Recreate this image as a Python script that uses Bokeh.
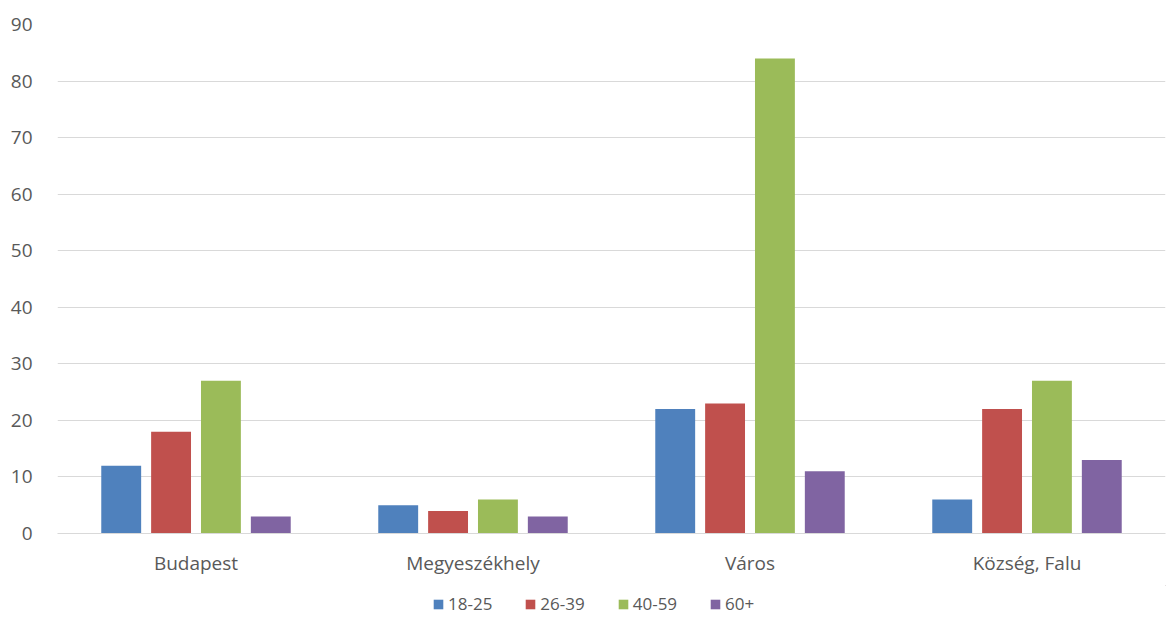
from bokeh.plotting import figure
from bokeh.layouts import column
from bokeh.models import (ColumnDataSource, FactorRange, Range1d, FixedTicker,
                          Legend, LegendItem)
from bokeh.transform import dodge
from bokeh.embed import file_html
from bokeh.resources import INLINE

# Respondents by settlement type and age group
categories = ["Budapest", "Megyeszékhely", "Város", "Község, Falu"]
age_groups = ["18-25", "26-39", "40-59", "60+"]
v_18_25 = [12, 5, 22, 6]
v_26_39 = [18, 4, 23, 22]
v_40_59 = [27, 6, 84, 27]
v_60_plus = [3, 3, 11, 13]
y_ticks = [0, 10, 20, 30, 40, 50, 60, 70, 80, 90]

colors = ["#4F81BD", "#C0504D", "#9BBB59", "#8064A2"]
series = [v_18_25, v_26_39, v_40_59, v_60_plus]
offsets = [-0.27, -0.09, 0.09, 0.27]

source = ColumnDataSource(data=dict(
    cat=categories, s0=v_18_25, s1=v_26_39, s2=v_40_59, s3=v_60_plus))

FONT = "Open Sans"
TEXT = "#595959"

p = figure(width=1167, height=585, x_range=FactorRange(*categories),
           y_range=Range1d(0, 90), output_backend="svg",
           toolbar_location=None, min_border_left=57, min_border_right=2,
           min_border_top=24, min_border_bottom=52)
p.outline_line_color = None
p.background_fill_color = "white"
p.border_fill_color = "white"

for i in range(len(series)):
    p.vbar(x=dodge("cat", offsets[i], range=p.x_range), top=f"s{i}",
           width=0.144, source=source, fill_color=colors[i], line_color=None)

# Axes
p.xgrid.grid_line_color = None
p.ygrid.grid_line_color = "#D9D9D9"
p.ygrid.grid_line_width = 1
p.yaxis.ticker = FixedTicker(ticks=y_ticks)
p.yaxis.axis_line_color = None
p.yaxis.major_tick_line_color = None
p.yaxis.minor_tick_line_color = None
p.yaxis.major_label_standoff = 19
p.yaxis.major_label_text_font = FONT
p.yaxis.major_label_text_font_size = "19px"
p.yaxis.major_label_text_color = TEXT

p.xaxis.axis_line_color = "#D9D9D9"
p.xaxis.major_tick_line_color = None
p.xaxis.minor_tick_line_color = None
p.xaxis.major_label_standoff = 10
p.xaxis.major_label_text_font = FONT
p.xaxis.major_label_text_font_size = "19px"
p.xaxis.major_label_text_color = TEXT

# Legend strip below the chart; swatch renderers sit outside the visible range
leg = figure(width=1167, height=42, x_range=Range1d(0, 1), y_range=Range1d(0, 1),
             output_backend="svg", toolbar_location=None,
             x_axis_type=None, y_axis_type=None, min_border=0)
leg.outline_line_color = None
leg.xgrid.visible = False
leg.ygrid.visible = False
swatches = [leg.vbar(x=[5], top=[5], bottom=[4], width=0.1, fill_color=c,
                     line_color=None)
            for c in colors]

legend = Legend(
    items=[LegendItem(label=age_groups[i], renderers=[swatches[i]])
           for i in range(4)],
    orientation="horizontal", location=(375, 12),
    border_line_color=None, background_fill_alpha=0,
    glyph_width=12, glyph_height=12, label_standoff=4, spacing=32,
    padding=0, margin=0, label_text_font=FONT, label_text_font_size="17px",
    label_text_color=TEXT)
leg.add_layout(legend)

layout = column(p, leg, spacing=0)
open("out.html", "w").write(file_html(layout, INLINE))
